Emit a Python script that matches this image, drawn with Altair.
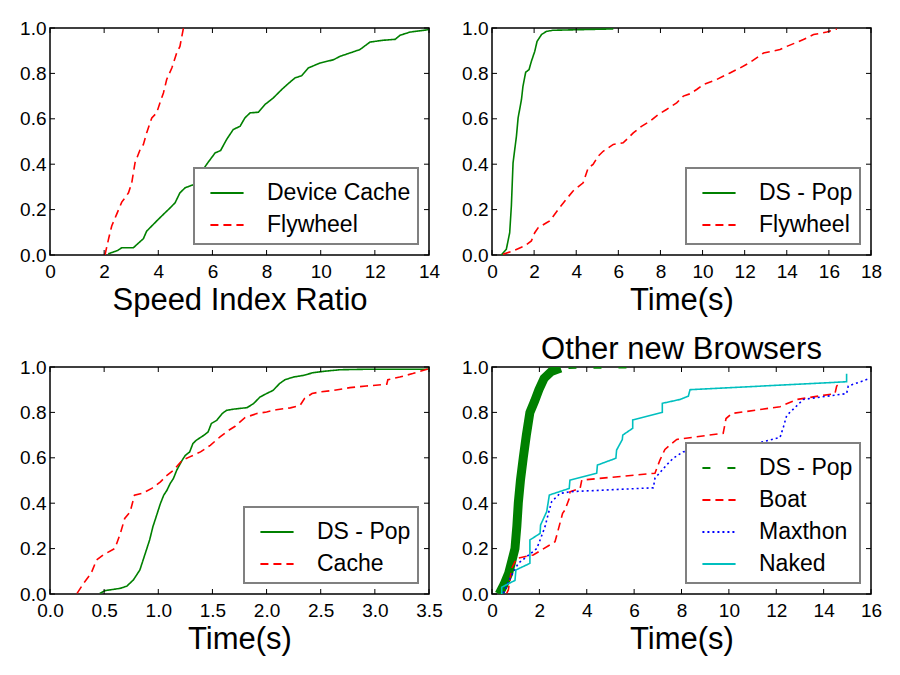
import altair as alt
import pandas as pd

FONT = "Liberation Sans"
W, H = 379, 227
TICK = 5

# ---------------- Panel 1: Speed Index Ratio ----------------
p1_dc_x = [2.15, 2.5, 2.65, 3.08, 3.45, 3.57, 4.0, 4.5, 4.62, 4.8, 4.99, 5.3, 5.54, 5.79, 6.1, 6.3,
           6.53, 6.77, 7.02, 7.2, 7.39, 7.7, 7.94, 8.25, 8.56, 8.8, 9.05, 9.3, 9.54, 9.98, 10.47,
           10.71, 11.08, 11.45, 11.82, 12.3, 12.75, 12.93, 13.3, 14.0]
p1_dc_y = [0.005, 0.02, 0.032, 0.032, 0.072, 0.105, 0.157, 0.215, 0.23, 0.274, 0.296, 0.31, 0.355,
           0.4, 0.45, 0.46, 0.51, 0.553, 0.567, 0.604, 0.626, 0.629, 0.663, 0.692, 0.729, 0.755,
           0.78, 0.79, 0.824, 0.846, 0.86, 0.875, 0.89, 0.905, 0.938, 0.946, 0.95, 0.968, 0.982, 0.993]
p1_fw_x = [2.03, 2.16, 2.28, 2.46, 2.65, 2.77, 2.9, 3.02, 3.14, 3.33, 3.45, 3.57, 3.76, 3.94, 4.06,
           4.19, 4.31, 4.5, 4.68, 4.8, 4.87, 4.93]
p1_fw_y = [0.0, 0.069, 0.128, 0.179, 0.233, 0.252, 0.274, 0.318, 0.406, 0.465, 0.487, 0.538, 0.604,
           0.626, 0.67, 0.714, 0.773, 0.824, 0.89, 0.919, 0.963, 1.0]

# ---------------- Panel 2: DS - Pop vs Flywheel ----------------
p2_ds_x = [0.44, 0.68, 0.84, 0.92, 1.0, 1.16, 1.24, 1.4, 1.47, 1.6, 1.76, 1.87, 2.03, 2.14, 2.35,
           2.58, 2.9, 4.33, 5.76]
p2_ds_y = [0.0, 0.025, 0.098, 0.216, 0.406, 0.523, 0.604, 0.685, 0.743, 0.805, 0.817, 0.853, 0.897,
           0.941, 0.971, 0.985, 0.99, 0.993, 0.996]
p2_fw_x = [0.52, 1.0, 1.55, 1.87, 2.03, 2.19, 2.59, 2.74, 3.14, 3.46, 3.85, 4.33, 4.57, 4.8, 5.04,
           5.28, 5.76, 6.23, 6.71, 7.1, 7.5, 7.9, 8.29, 8.77, 9.09, 9.4, 9.72, 10.04, 10.67, 11.3,
           11.78, 12.26, 12.9, 13.68, 14.0, 14.48, 14.79, 15.27, 15.9, 16.38]
p2_fw_y = [0.003, 0.018, 0.04, 0.062, 0.098, 0.12, 0.142, 0.15, 0.2, 0.238, 0.282, 0.318, 0.384,
           0.399, 0.435, 0.457, 0.487, 0.494, 0.538, 0.567, 0.589, 0.619, 0.641, 0.67, 0.7, 0.71,
           0.729, 0.751, 0.773, 0.802, 0.824, 0.849, 0.89, 0.905, 0.919, 0.937, 0.949, 0.971, 0.982,
           0.996]

# ---------------- Panel 3: DS - Pop vs Cache ----------------
p3_ds_x = [0.46, 0.51, 0.65, 0.71, 0.77, 0.83, 0.86, 0.89, 0.92, 0.95, 0.98, 1.02, 1.05, 1.08, 1.11,
           1.14, 1.17, 1.22, 1.25, 1.29, 1.32, 1.35, 1.42, 1.46, 1.49, 1.54, 1.59, 1.63, 1.69, 1.82,
           1.88, 1.94, 2.0, 2.06, 2.12, 2.17, 2.25, 2.34, 2.43, 2.55, 2.68, 2.92, 3.5]
p3_ds_y = [0.003, 0.015, 0.025, 0.035, 0.062, 0.106, 0.15, 0.194, 0.238, 0.296, 0.34, 0.399, 0.435,
           0.457, 0.487, 0.509, 0.545, 0.589, 0.611, 0.626, 0.663, 0.677, 0.699, 0.714, 0.751, 0.765,
           0.795, 0.809, 0.814, 0.821, 0.839, 0.868, 0.883, 0.897, 0.927, 0.944, 0.956, 0.963, 0.975,
           0.982, 0.988, 0.99, 0.99]
p3_ca_x = [0.25, 0.31, 0.38, 0.43, 0.49, 0.6, 0.65, 0.69, 0.74, 0.78, 0.85, 0.94, 1.02, 1.08, 1.14,
           1.22, 1.29, 1.39, 1.48, 1.57, 1.65, 1.71, 1.8, 1.91, 2.0, 2.09, 2.22, 2.31, 2.35, 2.42,
           2.49, 2.62, 2.77, 2.92, 3.11, 3.12, 3.23, 3.35, 3.5]
p3_ca_y = [0.003, 0.047, 0.091, 0.15, 0.172, 0.201, 0.267, 0.333, 0.362, 0.435, 0.443, 0.465, 0.494,
           0.523, 0.545, 0.589, 0.604, 0.626, 0.655, 0.692, 0.721, 0.739, 0.777, 0.795, 0.802, 0.812,
           0.82, 0.831, 0.861, 0.883, 0.89, 0.897, 0.909, 0.916, 0.924, 0.944, 0.956, 0.971, 0.993]

# ---------------- Panel 4: Other new Browsers ----------------
p4_ds_x = [0.3, 0.5, 0.7, 0.85, 0.97, 1.05, 1.11, 1.2, 1.32, 1.45, 1.6, 1.8, 1.98, 2.2, 2.5, 2.9,
           4.3, 5.8]
p4_ds_y = [0.0, 0.04, 0.09, 0.15, 0.2, 0.3, 0.4, 0.5, 0.6, 0.7, 0.8, 0.85, 0.9, 0.95, 0.98, 0.995,
           0.996, 0.997]
p4_boat_x = [0.62, 0.69, 0.83, 1.04, 1.74, 2.66, 2.98, 3.08, 3.29, 3.29, 3.72, 3.79, 6.88, 7.09,
             7.3, 7.8, 7.94, 9.76, 9.88, 10.12, 12.16, 12.86, 14.48, 14.55, 14.69]
p4_boat_y = [0.003, 0.018, 0.113, 0.157, 0.172, 0.23, 0.355, 0.37, 0.429, 0.45, 0.465, 0.502, 0.532,
             0.59, 0.637, 0.681, 0.683, 0.708, 0.773, 0.795, 0.825, 0.857, 0.883, 0.916, 0.928]
p4_max_x = [0.48, 0.76, 1.11, 1.46, 1.89, 2.03, 2.24, 2.38, 2.52, 2.87, 3.36, 6.81, 6.88, 7.37,
            7.65, 8.08, 10.89, 11.03, 12.16, 12.3, 12.44, 13.14, 14.97, 15.04, 15.96]
p4_max_y = [0.003, 0.069, 0.135, 0.164, 0.2, 0.238, 0.297, 0.355, 0.407, 0.443, 0.451, 0.468, 0.51,
            0.568, 0.598, 0.627, 0.646, 0.66, 0.69, 0.735, 0.786, 0.857, 0.883, 0.916, 0.95]
p4_nak_x = [0.41, 0.41, 0.97, 1.01, 1.6, 1.6, 2.03, 2.05, 2.31, 2.42, 3.26, 3.29, 4.42, 4.45, 5.23,
            5.26, 5.5, 5.52, 5.94, 5.94, 7.19, 7.19, 7.94, 8.29, 8.36, 14.97, 14.97]
p4_nak_y = [0.0, 0.03, 0.06, 0.106, 0.135, 0.238, 0.267, 0.304, 0.363, 0.436, 0.465, 0.502, 0.532,
            0.568, 0.598, 0.634, 0.68, 0.70, 0.73, 0.767, 0.8, 0.84, 0.857, 0.872, 0.9, 0.935, 0.97]

y_ticks = [0.0, 0.2, 0.4, 0.6, 0.8, 1.0]

GREEN = "#008000"
RED = "#ff0000"
BLUE = "#0000ff"
CYAN = "#00bfbf"
SOLID = [1, 0]
DASHED = [8, 5]
DOTTED = [2, 3]
MARKER = [8, 17]


def sdf(name, xs, ys):
    return pd.DataFrame({"x": xs, "y": ys, "series": name, "order": list(range(len(xs)))})


def panel(series, xdom, xticks, xfmt, xtitle, title=None, band=None):
    names = [s[0] for s in series]
    colors = [s[3] for s in series]
    dashes = [s[4] for s in series]
    df = pd.concat([sdf(s[0], s[1], s[2]) for s in series], ignore_index=True)
    xs = alt.Scale(domain=xdom, nice=False, zero=False)
    ys = alt.Scale(domain=[0, 1], nice=False)
    xaxis = alt.Axis(values=xticks, format=xfmt, title=xtitle, labelPadding=7, titlePadding=4,
                     labelFlush=False)
    yaxis = alt.Axis(values=y_ticks, format=".1f", title=None, labelPadding=4, labelFlush=False)
    X = alt.X("x:Q", scale=xs, axis=xaxis)
    Y = alt.Y("y:Q", scale=ys, axis=yaxis)
    leg = alt.Legend(title=None)

    layers = []
    if band is not None:
        bdf = sdf("band", band[0], band[1])
        layers.append(
            alt.Chart(bdf).mark_line(color=GREEN, strokeWidth=9, strokeCap="butt", clip=True)
            .encode(x=X, y=Y, order="order:Q")
        )
    layers.append(
        alt.Chart(df).mark_line(strokeWidth=1.6, clip=True).encode(
            x=X, y=Y, order="order:Q",
            color=alt.Color("series:N", scale=alt.Scale(domain=names, range=colors), legend=leg),
            strokeDash=alt.StrokeDash("series:N", scale=alt.Scale(domain=names, range=dashes),
                                      legend=leg),
        )
    )
    xt = pd.DataFrame({"x": xticks})
    yt = pd.DataFrame({"y": y_ticks})
    tick = dict(color="black", strokeWidth=1)
    layers += [
        alt.Chart(xt).mark_rule(**tick).encode(x=X, y=alt.value(H), y2=alt.value(H - TICK)),
        alt.Chart(xt).mark_rule(**tick).encode(x=X, y=alt.value(0), y2=alt.value(TICK)),
        alt.Chart(yt).mark_rule(**tick).encode(y=Y, x=alt.value(0), x2=alt.value(TICK)),
        alt.Chart(yt).mark_rule(**tick).encode(y=Y, x=alt.value(W), x2=alt.value(W - TICK)),
    ]
    props = dict(width=W, height=H)
    if title is not None:
        props["title"] = alt.Title(title, fontSize=31, font=FONT, fontWeight="normal", offset=-8)
    return alt.layer(*layers).properties(**props)


p1 = panel([("Device Cache", p1_dc_x, p1_dc_y, GREEN, SOLID),
            ("Flywheel", p1_fw_x, p1_fw_y, RED, DASHED)],
           [0, 14], list(range(0, 15, 2)), "d", "Speed Index Ratio")
p2 = panel([("DS - Pop", p2_ds_x, p2_ds_y, GREEN, SOLID),
            ("Flywheel", p2_fw_x, p2_fw_y, RED, DASHED)],
           [0, 18], list(range(0, 19, 2)), "d", "Time(s)")
p3 = panel([("DS - Pop", p3_ds_x, p3_ds_y, GREEN, SOLID),
            ("Cache", p3_ca_x, p3_ca_y, RED, DASHED)],
           [0, 3.5], [0.0, 0.5, 1.0, 1.5, 2.0, 2.5, 3.0, 3.5], ".1f", "Time(s)")
p4 = panel([("DS - Pop", p4_ds_x, p4_ds_y, GREEN, MARKER),
            ("Boat", p4_boat_x, p4_boat_y, RED, DASHED),
            ("Maxthon", p4_max_x, p4_max_y, BLUE, DOTTED),
            ("Naked", p4_nak_x, p4_nak_y, CYAN, SOLID)],
           [0, 16], list(range(0, 17, 2)), "d", "Time(s)", title="Other new Browsers",
           band=(p4_ds_x[:16], p4_ds_y[:16]))

chart = (
    alt.concat(p1, p2, p3, p4, columns=2, spacing={"row": 17, "column": 17})
    .resolve_scale(color="independent", strokeDash="independent")
    .properties(padding={"left": 10, "top": 10, "right": 5, "bottom": 5})
    .configure_view(stroke="black", strokeWidth=1.5)
    .configure_axis(
        labelFont=FONT, labelFontSize=19, labelColor="black",
        titleFont=FONT, titleFontSize=31, titleFontWeight="normal", titleColor="black",
        grid=False, ticks=False, domain=False,
    )
    .configure_legend(
        orient="bottom-right", offset=11, padding=7, strokeColor="#808080", strokeWidth=2,
        fillColor="white", cornerRadius=0, labelFont=FONT, labelFontSize=23, labelColor="black",
        symbolType="stroke", symbolSize=1100, symbolStrokeWidth=2, labelOffset=22,
        rowPadding=2, symbolOffset=8,
    )
)

chart.save("out.html", embed_options={"renderer": "svg", "actions": False})
